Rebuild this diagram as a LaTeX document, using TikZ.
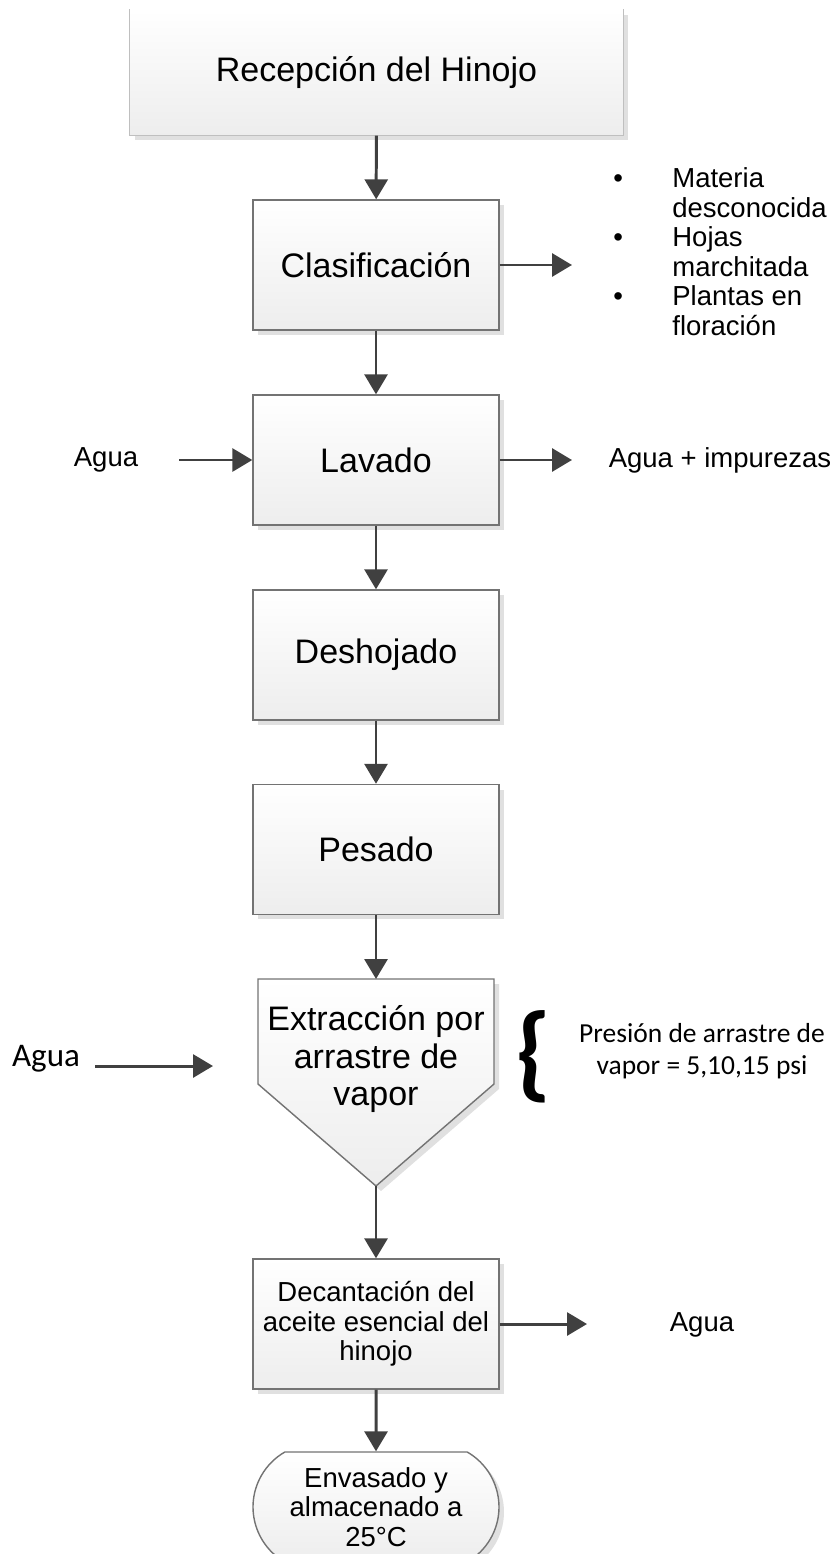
\documentclass[tikz,border=0pt]{standalone}
\usepackage{fontspec}
\setmainfont{Liberation Sans}
\newfontfamily\calibri{Carlito}
\usetikzlibrary{arrows.meta,shadows,shapes.misc}

\newcommand{\bigtxt}{\fontsize{19.35}{21.06}\selectfont}
\newcommand{\smalltxt}{\fontsize{15.65}{16.8}\selectfont}
\newcommand{\blt}{\makebox[33.6pt][l]{\textbullet}}
\newcommand{\lstind}{\hspace*{33.6pt}}

\tikzset{
  procshape/.style={draw=black!55, line width=0.8pt, top color=white, bottom color=black!7,
    general shadow={shadow xshift=0.1cm, shadow yshift=-0.1cm, fill=black!12}},
  procbox/.style={procshape, rectangle, minimum width=4.92cm, minimum height=2.6cm,
    inner sep=0pt, align=center, font=\bigtxt},
  flow/.style={draw=black!75, line width=1.7pt, -{Triangle[length=0.4cm, width=0.46cm]}},
  lbl/.style={inner sep=0pt, align=center, font=\smalltxt},
}

\begin{document}
\begin{tikzpicture}[x=0.02cm, y=-0.02cm]
    \useasboundingbox (0,0) rectangle (835,1554);

    % Main column of steps
    \node[procbox, draw=none, minimum width=9.86cm, minimum height=2.5cm] (rec) at (376.5,72.5) {Recepción del Hinojo};
    \draw[draw=black!25, line width=0.8pt] (rec.north west) -- (rec.south west) -- (rec.south east) -- (rec.north east);
    \node[procbox] (cla) at (376,265) {Clasificación};
    \node[procbox] (lav) at (376,460) {Lavado};
    \node[procbox] (des) at (376,655) {Deshojado};
    \node[procbox] (pes) at (376,849.5) {Pesado};

    % Extraction vessel (box with pointed bottom)
    \coordinate (ext-n) at (376,979);
    \coordinate (ext-s) at (376,1186);
    \coordinate (ext-w) at (213,1066);
    \path[procshape] (258,979) -- (494,979) -- (494,1084) -- (ext-s) -- (258,1084) -- cycle;
    \node[lbl, font=\bigtxt] (ext) at (376,1059) {Extracción por\\arrastre de\\vapor};

    \node[procbox, font=\smalltxt] (dec) at (376,1324) {Decantación del\\aceite esencial del\\hinojo};
    \node[procbox, rounded rectangle, rounded rectangle arc length=120, minimum height=2.2cm,
      font=\smalltxt] (env) at (376,1507) {Envasado y\\almacenado a\\25°C};

    % Vertical flow
    \foreach \a/\b in {rec/cla, cla/lav, lav/des, des/pes, dec/env}
        \draw[flow] (\a) -- (\b);
    \draw[flow] (pes) -- (ext-n);
    \draw[flow] (ext-s) -- (dec);

    % Side streams
    \coordinate (cla-out) at (572,265);
    \draw[flow] (cla) -- (cla-out);
    \node[lbl, anchor=west, align=left] (lst) at (613,251.5)
        {\blt Materia\\\lstind desconocida\\\blt Hojas\\\lstind marchitada\\\blt Plantas en\\\lstind floración};

    \node[lbl] (agua1) at (106,460) {Agua};
    \coordinate (agua1-in) at (179,460);
    \draw[flow] (agua1-in) -- (lav);
    \coordinate (lav-out) at (572,460);
    \draw[flow] (lav) -- (lav-out);
    \node[lbl] (imp) at (720,460) {Agua + impurezas};

    \node[lbl, font=\calibri\fontsize{18.8}{20}\selectfont] (agua2) at (46,1059) {Agua};
    \coordinate (agua2-in) at (95,1066);
    \draw[flow] (agua2-in) -- (ext-w);
    \node[inner sep=0pt, font=\calibri\bfseries\fontsize{60}{60}\selectfont] (brc) at (534,1057) {\{};
    \node[lbl, font=\calibri\fontsize{15.65}{18.2}\selectfont] (pres) at (702,1051) {Presión de arrastre de\\vapor = 5,10,15 psi};

    \coordinate (dec-out) at (587,1324);
    \draw[flow] (dec) -- (dec-out);
    \node[lbl] (agua3) at (702,1325) {Agua};
\end{tikzpicture}
\end{document}
